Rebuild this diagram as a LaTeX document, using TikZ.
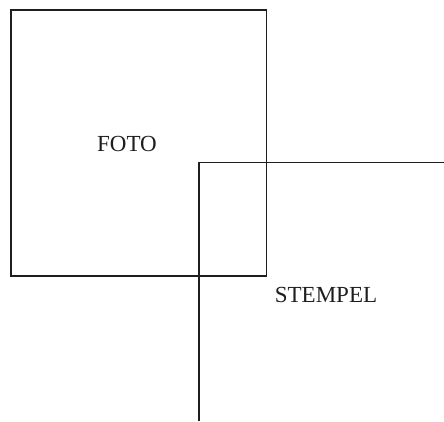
\documentclass[tikz,border=0pt]{standalone}
\usepackage{fontspec}
\setmainfont{Liberation Serif}
\usepackage{xcolor}
\usetikzlibrary{positioning,calc}
\definecolor{ink}{RGB}{30,30,30}
\tikzset{
  frame/.style={draw=ink, line width=1.2pt, fill=none, inner sep=0pt},
  lbl/.style={font=\fontsize{23}{27}\selectfont, text=ink, inner sep=0pt},
  rim/.style={draw=ink, line width=1.2pt},
}

\begin{document}
\begin{tikzpicture}[x=1pt,y=-1pt]
  \useasboundingbox (0,0) rectangle (444,422);
  \node[frame, minimum width=255.5pt, minimum height=266pt] (foto) at (138.75,143) {};
  \node[lbl] (fototxt) at (127,144) {FOTO};
  \coordinate (stbot) at (199,421);
  \coordinate (stend) at (444,162.5);
  \draw[rim] (stbot) |- (stend);
  \node[lbl] (stempel) at (326,295) {STEMPEL};
\end{tikzpicture}
\end{document}
